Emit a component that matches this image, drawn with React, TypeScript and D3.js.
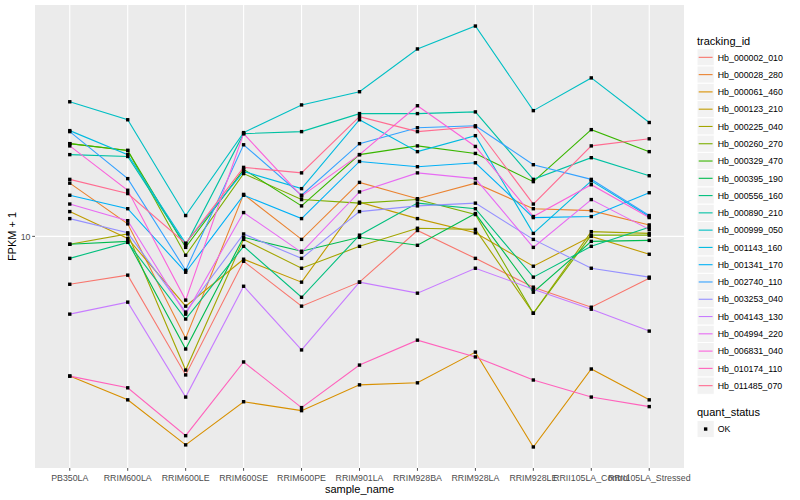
import React from 'react';
import * as d3 from 'd3';

const sampleNames = [
  'PB350LA', 'RRIM600LA', 'RRIM600LE', 'RRIM600SE', 'RRIM600PE', 'RRIM901LA',
  'RRIM928BA', 'RRIM928LA', 'RRIM928LE', 'RRII105LA_Control', 'RRII105LA_Stressed',
];

const trackingIds = [
  'Hb_000002_010', 'Hb_000028_280', 'Hb_000061_460', 'Hb_000123_210', 'Hb_000225_040',
  'Hb_000260_270', 'Hb_000329_470', 'Hb_000395_190', 'Hb_000556_160', 'Hb_000890_210',
  'Hb_000999_050', 'Hb_001143_160', 'Hb_001341_170', 'Hb_002740_110', 'Hb_003253_040',
  'Hb_004143_130', 'Hb_004994_220', 'Hb_006831_040', 'Hb_010174_110', 'Hb_011485_070',
];

// FPKM + 1 per sample (order of sampleNames)
const Hb_000002_010 = [6.70, 7.23, 3.14, 8.12, 5.58, 6.82, 10.5, 8.32, 6.54, 5.53, 7.05];
const Hb_000028_280 = [15.6, 11.1, 4.27, 14.2, 9.75, 15.7, 13.7, 15.6, 12.6, 12.4, 11.0];
const Hb_000061_460 = [3.11, 2.55, 1.75, 2.51, 2.33, 2.89, 2.94, 3.80, 1.72, 3.30, 2.55];
const Hb_000123_210 = [12.3, 9.83, 5.58, 8.26, 6.82, 13.3, 11.6, 10.3, 7.79, 10.0, 8.61];
const Hb_000225_040 = [9.36, 10.2, 3.27, 9.75, 7.66, 9.20, 10.7, 10.6, 5.26, 10.4, 10.25];
const Hb_000260_270 = [21.7, 20.5, 8.54, 16.9, 13.6, 13.2, 13.6, 12.0, 5.26, 10.1, 10.1];
const Hb_000329_470 = [21.7, 20.5, 9.12, 17.5, 12.9, 19.8, 21.3, 20.0, 15.8, 24.4, 20.3];
const Hb_000395_190 = [9.36, 9.59, 3.90, 9.92, 8.83, 9.92, 9.28, 12.1, 6.27, 9.59, 9.67];
const Hb_000556_160 = [8.32, 9.51, 5.01, 9.20, 6.01, 10.1, 13.2, 12.6, 7.11, 9.20, 10.8];
const Hb_000890_210 = [19.8, 19.5, 9.28, 23.6, 24.0, 27.9, 27.9, 28.3, 16.1, 19.3, 16.6];
const Hb_000999_050 = [30.8, 26.5, 11.9, 23.8, 30.0, 33.5, 47.9, 58.0, 28.6, 37.6, 25.9];
const Hb_001143_160 = [24.2, 19.8, 9.43, 17.2, 14.9, 26.5, 20.3, 23.2, 10.25, 15.9, 11.8];
const Hb_001341_170 = [14.1, 12.6, 7.41, 14.1, 11.6, 18.7, 17.9, 18.5, 11.7, 11.8, 14.4];
const Hb_002740_110 = [24.0, 16.2, 7.53, 21.5, 14.1, 21.7, 24.8, 25.2, 18.2, 16.1, 11.9];
const Hb_003253_040 = [11.6, 10.3, 5.31, 10.2, 8.32, 12.3, 12.9, 13.2, 9.75, 7.66, 7.11];
const Hb_004143_130 = [5.22, 5.77, 2.61, 6.59, 3.87, 6.82, 6.22, 7.66, 6.43, 5.44, 4.53];
const Hb_004994_220 = [13.1, 11.4, 5.22, 12.2, 8.75, 14.5, 17.0, 16.2, 9.12, 13.6, 10.6];
const Hb_006831_040 = [21.3, 14.7, 5.87, 23.6, 14.0, 19.8, 29.8, 21.2, 11.8, 15.4, 11.7];
const Hb_010174_110 = [3.11, 2.82, 1.89, 3.50, 2.39, 3.41, 4.20, 3.65, 3.01, 2.61, 2.41];
const Hb_011485_070 = [16.1, 14.3, 9.43, 17.8, 17.0, 27.2, 24.0, 25.0, 13.1, 21.3, 22.6];

const seriesValues = [
  Hb_000002_010, Hb_000028_280, Hb_000061_460, Hb_000123_210, Hb_000225_040,
  Hb_000260_270, Hb_000329_470, Hb_000395_190, Hb_000556_160, Hb_000890_210,
  Hb_000999_050, Hb_001143_160, Hb_001341_170, Hb_002740_110, Hb_003253_040,
  Hb_004143_130, Hb_004994_220, Hb_006831_040, Hb_010174_110, Hb_011485_070,
];

const yTicks = [10];
const quantStatus = ['OK'];

const palette = [
  '#F8766D', '#EA8331', '#D89000', '#C09B00', '#A3A500', '#7CAE00', '#39B600',
  '#00BB4E', '#00BF7D', '#00C1A3', '#00BFC4', '#00BAE0', '#00B0F6', '#35A2FF',
  '#9590FF', '#C77CFF', '#E76BF3', '#FA62DB', '#FF62BC', '#FF6C91',
];

const FONT = '"Liberation Sans", Arial, Helvetica, sans-serif';

export default function App() {
  const W = 800;
  const H = 500;
  const pL = 35, pR = 684, pT = 5, pB = 468;

  const x = d3.scalePoint<string>().domain(sampleNames).range([pL, pR]).padding(0.6);
  const all = seriesValues.flat();
  const [mn, mx] = d3.extent(all) as [number, number];
  const lmin = Math.log10(mn), lmax = Math.log10(mx);
  const r = lmax - lmin;
  const y = d3.scaleLog().domain([10 ** (lmin - 0.05 * r), 10 ** (lmax + 0.05 * r)]).range([pB, pT]);

  const line = d3.line<number>()
    .x((_, i) => x(sampleNames[i]) as number)
    .y((v) => y(v));

  const keyH = 17.28;
  const keyX = 697;
  const keyTop0 = 48.7;

  return (
    <svg width={W} height={H} style={{ position: 'fixed', left: 0, top: 0, background: '#fff' }} fontFamily={FONT}>
      <rect x={0} y={0} width={W} height={H} fill="#fff" />
      <rect x={pL} y={pT} width={pR - pL} height={pB - pT} fill="#EBEBEB" />
      {yTicks.map((t) => (
        <line key={'gy' + t} x1={pL} x2={pR} y1={y(t)} y2={y(t)} stroke="#fff" strokeWidth={1.1} />
      ))}
      {sampleNames.map((s) => (
        <line key={'gx' + s} x1={x(s)} x2={x(s)} y1={pT} y2={pB} stroke="#fff" strokeWidth={1.1} />
      ))}
      {seriesValues.map((vals, i) => (
        <path key={'l' + i} d={line(vals) || ''} fill="none" stroke={palette[i]} strokeWidth={1.1} />
      ))}
      {seriesValues.map((vals, i) =>
        vals.map((v, j) => (
          <rect
            key={'p' + i + '_' + j}
            x={(x(sampleNames[j]) as number) - 1.7}
            y={y(v) - 1.7}
            width={3.4}
            height={3.4}
            fill="#000"
          />
        ))
      )}
      {/* axes */}
      {sampleNames.map((s) => (
        <g key={'tx' + s}>
          <line x1={x(s)} x2={x(s)} y1={pB} y2={pB + 2.8} stroke="#4D4D4D" strokeWidth={1} />
          <text x={x(s)} y={481} textAnchor="middle" fontSize={8.8} fill="#4D4D4D">{s}</text>
        </g>
      ))}
      {yTicks.map((t) => (
        <g key={'ty' + t}>
          <line x1={pL - 2.8} x2={pL} y1={y(t)} y2={y(t)} stroke="#4D4D4D" strokeWidth={1} />
          <text x={pL - 4.5} y={y(t) + 3.2} textAnchor="end" fontSize={8.8} fill="#4D4D4D">{t}</text>
        </g>
      ))}
      <text x={(pL + pR) / 2} y={493} textAnchor="middle" fontSize={11} fill="#000">sample_name</text>
      <text
        transform={`translate(16,${(pT + pB) / 2}) rotate(-90)`}
        textAnchor="middle"
        fontSize={11}
        fill="#000"
      >FPKM + 1</text>
      {/* legend: tracking_id */}
      <text x={keyX} y={44.5} fontSize={11} fill="#000">tracking_id</text>
      {trackingIds.map((id, i) => {
        const top = keyTop0 + i * keyH;
        return (
          <g key={'lg' + id}>
            <rect x={keyX} y={top} width={keyH} height={keyH} fill="#F2F2F2" stroke="#fff" strokeWidth={1} />
            <line x1={keyX + 1.7} x2={keyX + keyH - 1.7} y1={top + keyH / 2} y2={top + keyH / 2} stroke={palette[i]} strokeWidth={1.1} />
            <text x={keyX + keyH + 3.5} y={top + keyH / 2 + 3.2} fontSize={8.8} fill="#000">{id}</text>
          </g>
        );
      })}
      {/* legend: quant_status */}
      <text x={keyX} y={416} fontSize={11} fill="#000">quant_status</text>
      {quantStatus.map((q, i) => {
        const top = 420.4 + i * keyH;
        return (
          <g key={'q' + q}>
            <rect x={keyX} y={top} width={keyH} height={keyH} fill="#F2F2F2" stroke="#fff" strokeWidth={1} />
            <rect x={keyX + keyH / 2 - 1.7} y={top + keyH / 2 - 1.7} width={3.4} height={3.4} fill="#000" />
            <text x={keyX + keyH + 3.5} y={top + keyH / 2 + 3.2} fontSize={8.8} fill="#000">{q}</text>
          </g>
        );
      })}
    </svg>
  );
}
